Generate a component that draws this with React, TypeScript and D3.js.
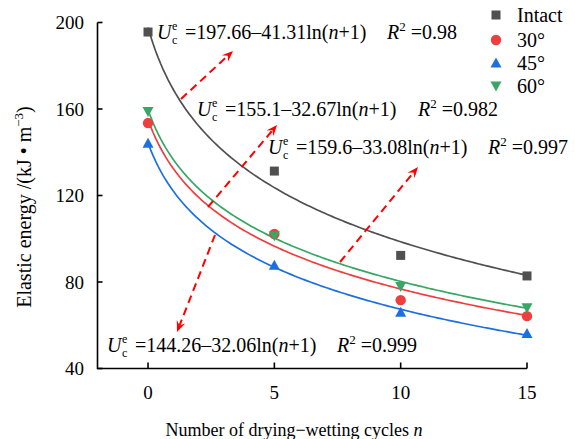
import React from "react";
import * as d3 from "d3";

const cycles = [0, 5, 10, 15];
const seriesNames = ["Intact", "30°", "45°", "60°"];
const intactValues = [195.6, 131.3, 92.3, 82.8];
const deg30Values = [153.5, 102.2, 71.6, 64.2];
const deg45Values = [144.2, 87.8, 66.0, 56.2];
const deg60Values = [158.8, 101.4, 77.9, 68.1];
const fitIntercepts = [197.66, 155.1, 144.26, 159.6];
const fitSlopes = [41.31, 32.67, 32.06, 33.08];
const fitR2 = ["0.98", "0.982", "0.999", "0.997"];
const xTicks = [0, 5, 10, 15];
const yTicks = [40, 80, 120, 160, 200];

const colors = ["#505050", "#ef3e3e", "#1c6fe0", "#36a765"];
const shapes = ["square", "circle", "triangle", "triangleDown"];
const values = [intactValues, deg30Values, deg45Values, deg60Values];

const W = 575, H = 439;
const x = d3.scaleLinear().domain([-2, 15]).range([97.5, 527]);
const y = d3.scaleLinear().domain([40, 200]).range([368.5, 22.5]);

const FONT = "Liberation Serif, Tinos, DejaVu Serif, serif";

function Marker({ shape, cx, cy, color }: { shape: string; cx: number; cy: number; color: string }) {
  if (shape === "square") return <rect x={cx - 4.5} y={cy - 4.5} width={9} height={9} fill={color} />;
  if (shape === "circle") return <circle cx={cx} cy={cy} r={5.2} fill={color} />;
  if (shape === "triangle")
    return <path d={`M${cx},${cy - 5.5}L${cx + 5.5},${cy + 4.5}L${cx - 5.5},${cy + 4.5}Z`} fill={color} />;
  return <path d={`M${cx},${cy + 5.5}L${cx + 5.5},${cy - 4.5}L${cx - 5.5},${cy - 4.5}Z`} fill={color} />;
}

function Equation({ x0, yb, idx, rx }: { x0: number; yb: number; idx: number; rx: number }) {
  return (
    <g fontSize={20} fill="#000">
      <text x={x0} y={yb} fontStyle="italic">U</text>
      <text x={x0 + 15} y={yb - 9} fontSize={12}>e</text>
      <text x={x0 + 15} y={yb + 5} fontSize={12}>c</text>
      <text x={x0 + 28} y={yb}>
        {`=${fitIntercepts[idx]}–${fitSlopes[idx].toFixed(2)}ln(`}
        <tspan fontStyle="italic">n</tspan>
        {"+1)"}
      </text>
      <text x={rx} y={yb}>
        <tspan fontStyle="italic">R</tspan>
        <tspan fontSize={13} dy={-8}>2</tspan>
        <tspan dy={8}>{" =" + fitR2[idx]}</tspan>
      </text>
    </g>
  );
}

function Arrow({ x1, y1, x2, y2 }: { x1: number; y1: number; x2: number; y2: number }) {
  const ang = Math.atan2(y2 - y1, x2 - x1);
  const L = 11, Wd = 4.5;
  const bx = x2 - L * Math.cos(ang), by = y2 - L * Math.sin(ang);
  const px = -Math.sin(ang) * Wd, py = Math.cos(ang) * Wd;
  const ix = x2 - 7 * Math.cos(ang), iy = y2 - 7 * Math.sin(ang);
  return (
    <g>
      <line x1={x1} y1={y1} x2={ix} y2={iy} stroke="#ff0000" strokeWidth={2} strokeDasharray="8,5" />
      <path d={`M${x2},${y2}L${bx + px},${by + py}L${ix},${iy}L${bx - px},${by - py}Z`} fill="#ff0000" />
    </g>
  );
}

export default function App() {
  const samples = d3.range(0, 15.001, 0.1);

  return (
    <svg width={W} height={H} style={{ position: "absolute", left: 0, top: 0, fontFamily: FONT }}>
      <rect width={W} height={H} fill="#fff" />
      {fitIntercepts.map((a, i) => {
        const gen = d3
          .line<number>()
          .x((n) => x(n))
          .y((n) => y(a - fitSlopes[i] * Math.log(n + 1)));
        return <path key={i} d={gen(samples) || ""} fill="none" stroke={colors[i]} strokeWidth={1.7} />;
      })}
      {values.map((vals, i) =>
        vals.map((v, j) => <Marker key={`${i}-${j}`} shape={shapes[i]} cx={x(cycles[j])} cy={y(v)} color={colors[i]} />)
      )}
      <g stroke="#000" strokeWidth={1.6} fill="none">
        <path d={`M${x(-2)},${y(200)}L${x(-2)},${y(40)}L${x(15)},${y(40)}`} />
        {yTicks.map((t) => (
          <line key={t} x1={x(-2)} x2={x(-2) + 5} y1={y(t)} y2={y(t)} />
        ))}
        {xTicks.map((t) => (
          <line key={t} x1={x(t)} x2={x(t)} y1={y(40)} y2={y(40) - 6} />
        ))}
      </g>
      <g fontSize={19} fill="#000">
        {yTicks.map((t) => (
          <text key={t} x={84} y={y(t) + 6.5} textAnchor="end">
            {t}
          </text>
        ))}
        {xTicks.map((t) => (
          <text key={t} x={x(t)} y={399} textAnchor="middle">
            {t}
          </text>
        ))}
      </g>
      <text x={294} y={436} textAnchor="middle" fontSize={18}>
        Number of drying−wetting cycles <tspan fontStyle="italic">n</tspan>
      </text>
      <text transform="translate(31,207) rotate(-90)" textAnchor="middle" fontSize={20}>
        Elastic energy /(kJ • m<tspan fontSize={13} dy={-8}>−3</tspan>
        <tspan dy={8}>)</tspan>
      </text>
      <Equation x0={157} yb={39} idx={0} rx={387} />
      <Equation x0={197} yb={116} idx={1} rx={418} />
      <Equation x0={268} yb={154} idx={3} rx={488} />
      <Equation x0={107} yb={352} idx={2} rx={337} />
      <Arrow x1={181} y1={99} x2={233} y2={51} />
      <Arrow x1={208} y1={207} x2={277} y2={125} />
      <Arrow x1={340} y1={262} x2={418} y2={167} />
      <Arrow x1={215} y1={235} x2={177} y2={332} />
      {seriesNames.map((s, i) => {
        const ly = [15, 40, 63, 86][i];
        return (
          <g key={s}>
            <Marker shape={shapes[i]} cx={496} cy={ly} color={colors[i]} />
            <text x={517} y={ly + 7} fontSize={20}>
              {s}
            </text>
          </g>
        );
      })}
    </svg>
  );
}
